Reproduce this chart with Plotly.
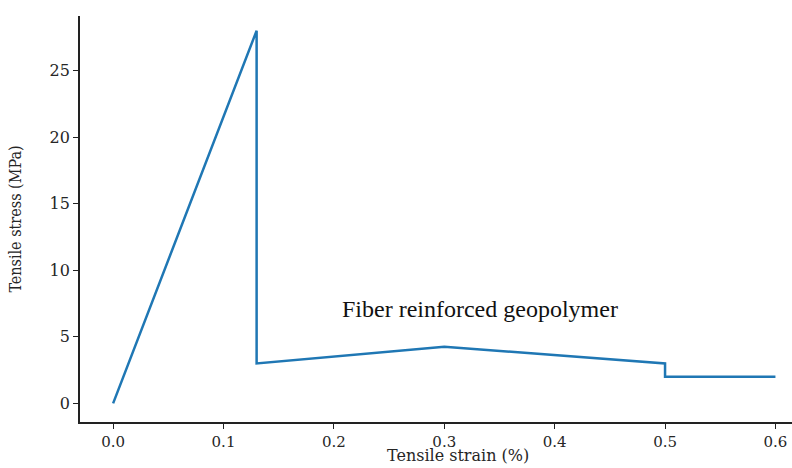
import plotly.graph_objects as go

strain = [0.0, 0.13, 0.13, 0.30, 0.50, 0.50, 0.60]
stress = [0.0, 28.0, 3.0, 4.25, 3.0, 2.0, 2.0]
x_ticks = [0.0, 0.1, 0.2, 0.3, 0.4, 0.5, 0.6]
x_tick_labels = ["0.0", "0.1", "0.2", "0.3", "0.4", "0.5", "0.6"]
y_ticks = [0, 5, 10, 15, 20, 25]
label_text = "Fiber reinforced geopolymer"
x_title = "Tensile strain (%)"
y_title = "Tensile stress (MPa)"

fig = go.Figure()
fig.add_trace(go.Scatter(x=strain, y=stress, mode="lines",
                         line=dict(color="#1f77b4", width=2.5), showlegend=False))
fig.add_annotation(x=0.332, y=7.1, text=label_text, showarrow=False,
                   font=dict(family="Liberation Serif, Times New Roman, serif", size=24, color="#111"))
fig.add_annotation(xref="paper", yref="paper", x=0.531, y=-0.111, xanchor="center", yanchor="bottom",
                   text=x_title, showarrow=False,
                   font=dict(family="DejaVu Serif", size=16, color="#262626"))

axis_common = dict(showgrid=False, zeroline=False, showline=True, linecolor="#222", linewidth=1.8,
                   ticks="outside", ticklen=5, tickwidth=1.2, tickcolor="#222", automargin=False)
fig.update_xaxes(range=[-0.03, 0.615], tickvals=x_ticks, ticktext=x_tick_labels,
                 tickfont=dict(family="DejaVu Serif", size=15, color="#262626"),
                 **axis_common)
fig.update_yaxes(range=[-1.4, 29.1], tickvals=y_ticks,
                 tickfont=dict(family="DejaVu Serif", size=16, color="#262626"),
                 title=dict(text=y_title, standoff=24,
                            font=dict(family="DejaVu Serif Condensed, Liberation Serif, serif", size=16, color="#262626")),
                 **axis_common)
fig.update_layout(width=792, height=468, margin=dict(l=80, r=0, t=16, b=46),
                  plot_bgcolor="white", paper_bgcolor="white")
fig.write_html("out.html", config={"displayModeBar": False},
               post_script="document.body.style.margin='0';document.body.style.overflow='hidden';")
